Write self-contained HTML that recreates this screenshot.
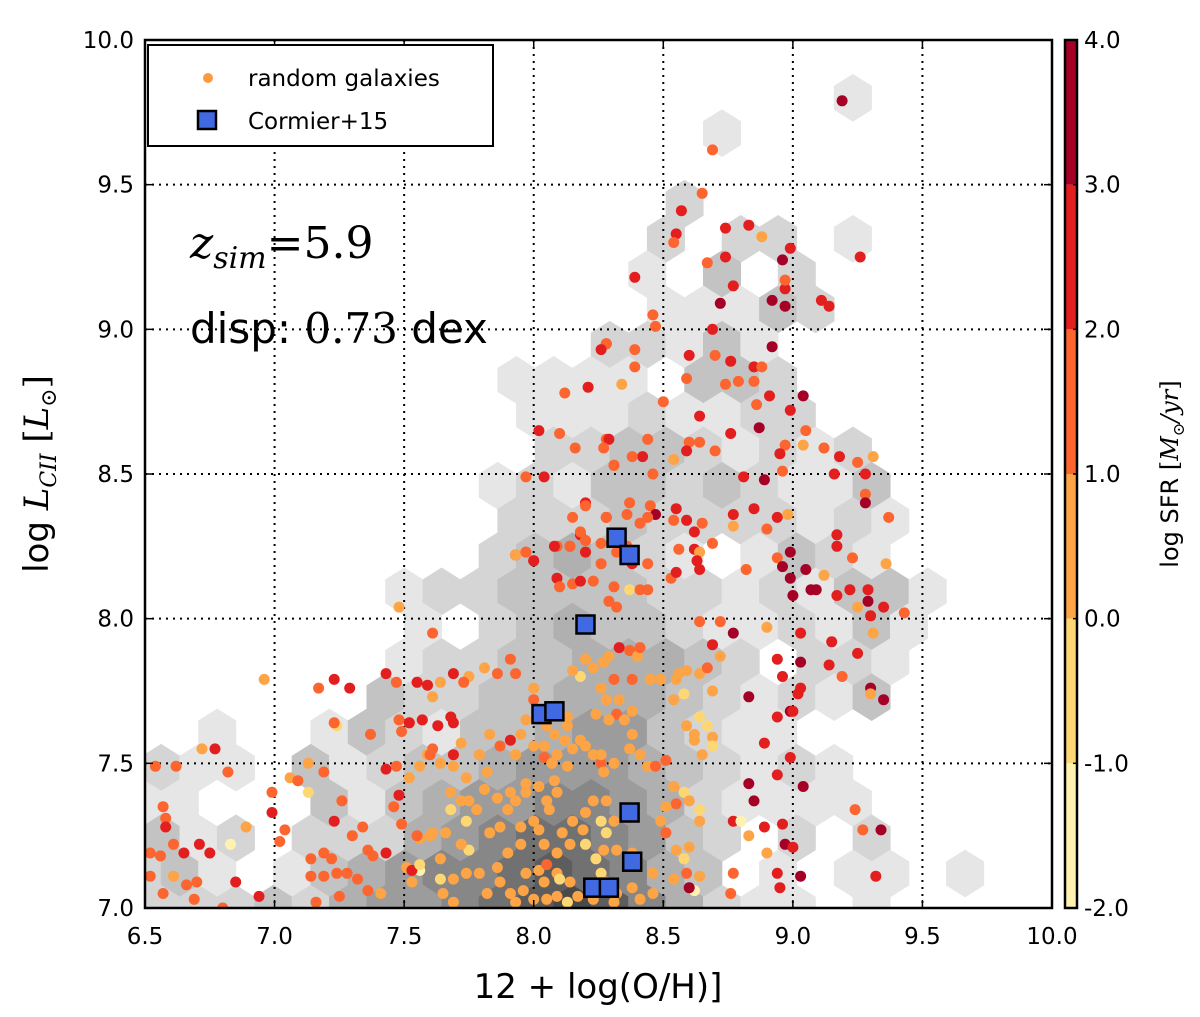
<!DOCTYPE html>
<html><head><meta charset="utf-8"><style>
html,body{margin:0;padding:0;background:#fff;}
svg{display:block;}
.sans{font-family:"DejaVu Sans","Liberation Sans",sans-serif;}
.serif{font-family:"DejaVu Serif","Liberation Serif",serif;}
</style></head><body>
<svg id="chart" class="sans" width="1200" height="1017" viewBox="0 0 1200 1017" xmlns="http://www.w3.org/2000/svg">
<defs><clipPath id="plotclip"><rect x="145" y="40" width="907" height="868"/></clipPath></defs>
<rect width="1200" height="1017" fill="#fff"/>
<g id="hexes" clip-path="url(#plotclip)"></g>
<g id="grid"></g>
<g id="points" clip-path="url(#plotclip)"></g>
<g id="squares" clip-path="url(#plotclip)"></g>
<rect x="145" y="40" width="907" height="868" fill="none" stroke="#000" stroke-width="2.5"/>
<g id="ticks"></g>
<g>
<rect x="148" y="45" width="345" height="101" fill="#fff" stroke="#000" stroke-width="2"/>
<circle cx="208" cy="78" r="5" fill="#fd9a40"/>
<text x="248" y="86" font-size="23">random galaxies</text>
<rect x="198" y="111" width="18" height="18" fill="#4169e1" stroke="#000" stroke-width="2.5"/>
<text x="248" y="129" font-size="23">Cormier+15</text>
</g>
<text class="serif" x="190" y="258" font-size="44" font-style="italic">z<tspan font-size="30" dy="10">sim</tspan><tspan dy="-10" font-style="normal">=5.9</tspan></text>
<text x="190" y="343" font-size="42">disp: <tspan class="serif">0.73</tspan> dex</text>
<g id="xlabels"></g>
<g id="ylabels"></g>
<text x="598" y="998" font-size="34" text-anchor="middle">12 + log(O/H)]</text>
<text transform="translate(48,474) rotate(-90)" font-size="34" text-anchor="middle">log <tspan class="serif" font-style="italic">L<tspan font-size="22" dy="8">CII</tspan></tspan><tspan dy="-8"> </tspan><tspan class="serif">[<tspan font-style="italic">L</tspan><tspan font-size="22" dy="8">⊙</tspan><tspan dy="-8">]</tspan></tspan></text>
<g id="cbar"></g>
<text transform="translate(1178,474) rotate(-90)" font-size="24" text-anchor="middle">log SFR <tspan class="serif">[<tspan font-style="italic">M</tspan><tspan font-size="16" dy="6">⊙</tspan><tspan dy="-6" font-style="italic">/yr</tspan>]</tspan></text>
</svg>
<script>
// ---- axes ----
const xMin=6.5,xMax=10,yMin=7,yMax=10;
const PX0=145,PX1=1052,PY0=908,PY1=40;
function sx(v){return PX0+(v-xMin)/(xMax-xMin)*(PX1-PX0);}
function sy(v){return PY0-(v-yMin)/(yMax-yMin)*(PY0-PY1);}
const xTicks=[6.5,7.0,7.5,8.0,8.5,9.0,9.5,10.0];
const xTickLabels=["6.5","7.0","7.5","8.0","8.5","9.0","9.5","10.0"];
const yTicks=[7.0,7.5,8.0,8.5,9.0,9.5,10.0];
const yTickLabels=["7.0","7.5","8.0","8.5","9.0","9.5","10.0"];
const cbTicks=[-2,-1,0,1,2,3,4];
const cbTickLabels=["-2.0","-1.0","0.0","1.0","2.0","3.0","4.0"];
const cbColors=["#fff2b0","#fed775","#fda446","#fc652f","#e31e1e","#a50026"];
// hexbin: grey level per cell, row m center y = hexY0 - m*hexDY; even rows start at hexX0, odd rows at hexX0+hexDX/2
const hexX0=6.49, hexDX=0.1443, hexY0=9.80, hexDY=0.12185, hexHalfH=0.0812;
const hexRows=[
"0000000000000000000100000",
"000000000000000100000000",
"0000000000000000000000000",
"000000000000002000000000",
"0000000000000020220100000",
"000000000000010302000000",
"0000000000000011132000000",
"000000000000221310000000",
"0000000000111103320000000",
"000000000011121122000000",
"0000000000022332121200000",
"000000000121332321130000",
"0000000000222322221210000",
"000000000234321013210000",
"0000000122333322121331000",
"000000010234332112131000",
"0000000122334443202210000",
"000000322334443212130000",
"0010013213345532110000000",
"211031233455543212100000",
"1100031345566542111100000",
"312022245677653202020000",
"2310134566787643010110100",
"222324556789864211010000"];
const hexGreys=["none","#e6e6e6","#d5d5d5","#c3c3c3","#b0b0b0","#9c9c9c","#878787","#717171","#5d5d5d","#4a4a4a"];
// scatter: random galaxies
const ptX=[8.08,8.12,8.15,8.09,8.04,8.07,8.13,8.18,8.20,8.23,8.26,8.27,8.31,8.26,8.37,8.41,8.38,8.32,8.38,8.33,8.28,8.24,8.29,8.35,8.26,8.31,8.38,8.18,8.15,8.20,8.23,8.27,8.29,8.33,8.37,8.40,8.41,8.45,8.49,8.54,8.56,8.59,8.64,8.67,8.69,8.64,8.59,8.62,8.67,8.69,8.69,8.65,8.62,8.58,8.55,8.51,8.44,8.47,8.54,8.55,8.58,8.60,8.64,8.64,8.51,8.49,8.51,8.55,8.58,8.59,8.64,8.62,8.54,8.46,8.46,8.41,8.38,8.38,8.32,8.27,8.28,8.26,8.31,8.28,8.23,8.20,8.19,8.15,8.11,8.14,8.20,8.24,8.26,8.28,8.32,8.31,8.23,8.17,8.13,8.09,8.05,8.04,8.02,7.97,7.96,7.91,7.87,7.86,7.90,7.95,8.04,8.09,8.05,8.09,8.14,8.10,8.00,7.93,7.82,7.79,7.74,7.69,7.64,7.65,7.69,7.75,7.72,7.66,7.61,7.56,7.56,7.51,7.53,7.64,7.83,7.87,7.90,7.86,7.91,7.93,7.97,7.97,8.02,8.08,8.09,8.05,8.06,8.00,7.95,8.02,7.78,7.75,7.72,7.68,7.68,7.74,7.81,7.82,7.74,7.69,7.64,7.56,7.52,7.61,7.59,7.69,7.72,7.79,7.83,7.87,7.93,7.91,7.95,8.00,8.04,7.97,8.02,8.05,8.13,8.13,8.00,8.00,7.93,7.91,7.86,7.81,7.75,7.73,7.69,7.64,7.61,7.55,7.68,7.69,7.63,7.57,7.52,
8.20,8.37,8.45,8.47,8.28,8.36,8.41,8.44,8.55,8.59,8.54,8.77,8.85,8.94,8.98,8.65,8.77,8.90,8.62,8.18,8.26,8.32,8.36,8.38,8.44,8.09,8.14,8.20,8.20,8.26,8.31,8.37,8.41,8.44,8.53,8.55,8.56,8.62,8.69,8.64,8.63,8.64,8.82,8.94,8.96,8.99,8.99,9.00,7.93,7.97,8.00,8.09,8.10,8.15,8.18,8.23,8.29,8.32,8.64,8.72,8.77,8.90,8.69,8.72,8.94,8.96,8.83,8.94,8.99,8.89,8.99,8.94,8.83,8.85,8.77,8.80,8.83,8.96,8.97,8.89,8.90,8.94,8.95,8.76,8.77,8.60,8.60,
9.28,9.28,9.37,9.17,9.17,9.23,9.36,9.05,9.12,9.07,9.09,9.17,9.22,9.29,9.29,9.25,9.30,9.35,9.43,9.31,9.03,9.15,9.25,9.03,9.14,9.19,9.03,9.02,9.30,9.30,9.35,9.00,9.04,9.24,9.27,9.34,9.00,9.03,9.32,
9.19,8.69,8.65,8.57,8.55,8.54,8.74,8.83,8.88,8.99,8.96,9.26,8.67,8.74,8.39,8.77,8.92,8.97,8.97,8.97,9.11,9.14,8.72,8.46,8.47,8.69,8.28,8.39,8.39,8.60,8.70,8.76,8.85,8.92,8.88,8.34,8.50,8.64,8.59,8.74,8.79,8.85,8.86,8.91,8.99,8.87,8.76,9.05,9.04,8.97,8.95,9.04,9.12,9.18,9.25,9.31,9.28,9.16,8.96,8.89,8.81,8.70,8.64,8.60,8.59,8.54,8.44,8.42,8.38,8.28,8.31,8.46,
8.28,8.26,8.12,8.21,8.02,8.10,8.16,8.29,8.27,7.97,8.04,8.31,8.20,8.15,8.18,8.08,8.14,8.20,7.93,7.97,8.00,8.20,8.28,
6.57,6.58,6.58,6.61,6.65,6.71,6.75,6.52,6.56,6.52,6.61,6.66,6.70,6.85,6.83,6.89,6.99,6.99,7.04,7.02,7.06,7.09,7.13,7.13,7.19,7.24,7.26,7.23,7.30,7.34,7.14,7.19,7.22,7.14,7.19,7.24,7.28,7.32,7.36,7.38,7.43,7.36,7.41,7.25,7.16,6.57,6.69,6.80,6.94,6.54,6.62,6.82,6.72,6.77,7.43,7.47,7.55,7.59,7.48,7.52,7.57,7.49,7.60,7.43,7.47,7.48,7.46,7.49,7.55,7.60,7.53,7.56,7.48,7.61,6.96,7.17,7.23,7.29,7.37,7.23];
const ptY=[7.60,7.58,7.55,7.53,7.52,7.50,7.49,7.58,7.56,7.53,7.50,7.47,7.50,7.53,7.55,7.53,7.60,7.67,7.68,7.72,7.72,7.67,7.65,7.65,7.76,7.79,7.79,7.80,7.82,7.86,7.83,7.85,7.87,7.90,7.89,7.87,7.90,7.79,7.79,7.72,7.81,7.82,7.81,7.83,7.75,7.66,7.63,7.60,7.63,7.59,7.56,7.53,7.58,7.74,7.79,7.51,7.49,7.49,7.42,7.36,7.40,7.37,7.34,7.30,7.35,7.30,7.26,7.20,7.17,7.12,7.11,7.06,7.10,7.12,7.05,7.03,7.07,7.19,7.20,7.20,7.26,7.30,7.30,7.37,7.37,7.33,7.27,7.30,7.26,7.22,7.22,7.17,7.12,7.09,7.05,7.02,7.03,7.04,7.02,7.04,7.03,7.09,7.13,7.12,7.06,7.05,7.09,7.14,7.19,7.22,7.22,7.19,7.15,7.12,7.09,7.10,7.03,7.02,7.05,7.12,7.12,7.10,7.10,7.05,7.02,7.20,7.22,7.26,7.26,7.24,7.13,7.14,7.09,7.17,7.26,7.28,7.34,7.38,7.40,7.37,7.40,7.43,7.42,7.44,7.40,7.37,7.34,7.30,7.28,7.27,7.34,7.37,7.37,7.40,7.34,7.30,7.41,7.47,7.45,7.49,7.50,7.49,7.45,7.55,7.53,7.53,7.57,7.53,7.60,7.56,7.53,7.58,7.60,7.56,7.56,7.65,7.67,7.63,7.63,7.66,7.72,7.76,7.81,7.86,7.81,7.83,7.80,7.78,7.81,7.78,7.73,7.78,7.66,7.64,7.63,7.65,7.64,
8.40,8.40,8.39,8.36,8.35,8.36,8.33,8.35,8.38,8.34,8.34,8.36,8.38,8.35,8.36,8.33,8.32,8.31,8.30,8.29,8.26,8.23,8.25,8.19,8.19,8.25,8.25,8.27,8.23,8.19,8.11,8.10,8.10,8.10,8.14,8.16,8.24,8.24,8.26,8.23,8.20,8.17,8.17,8.21,8.18,8.14,8.23,8.08,8.22,8.23,8.20,8.14,8.11,8.12,8.13,8.13,8.06,8.04,7.99,7.99,7.95,7.97,7.91,7.87,7.86,7.80,7.73,7.66,7.68,7.57,7.52,7.46,7.43,7.37,7.30,7.30,7.25,7.29,7.22,7.28,7.19,7.12,7.07,7.05,7.12,7.21,7.07,
8.43,8.40,8.35,8.29,8.25,8.21,8.19,8.17,8.15,8.10,8.10,8.08,8.10,8.10,8.06,8.04,8.01,8.04,8.02,7.95,7.95,7.92,7.88,7.85,7.84,7.80,7.76,7.74,7.76,7.74,7.72,7.68,7.42,7.34,7.27,7.27,7.21,7.11,7.11,
9.79,9.62,9.47,9.41,9.33,9.30,9.35,9.36,9.32,9.28,9.24,9.25,9.23,9.25,9.18,9.15,9.10,9.08,9.14,9.17,9.10,9.08,9.09,9.05,9.01,9.00,8.95,8.93,8.87,8.91,8.91,8.89,8.87,8.94,8.87,8.81,8.75,8.70,8.83,8.81,8.82,8.82,8.74,8.77,8.72,8.66,8.64,8.65,8.77,8.60,8.57,8.60,8.59,8.56,8.54,8.56,8.50,8.50,8.51,8.48,8.49,8.58,8.61,8.61,8.58,8.55,8.62,8.56,8.56,8.62,8.53,8.50,
8.95,8.93,8.78,8.80,8.65,8.64,8.59,8.62,8.59,8.49,8.49,8.53,8.39,8.35,8.30,8.25,8.25,8.27,8.22,8.23,8.20,8.23,8.35,
7.35,7.31,7.28,7.22,7.19,7.22,7.19,7.19,7.18,7.11,7.11,7.08,7.09,7.09,7.22,7.28,7.40,7.33,7.27,7.23,7.45,7.44,7.40,7.50,7.47,7.63,7.37,7.30,7.25,7.28,7.17,7.19,7.17,7.11,7.11,7.12,7.12,7.10,7.20,7.18,7.19,7.06,7.05,7.04,7.02,7.05,7.03,7.00,7.04,7.49,7.49,7.47,7.55,7.55,7.81,7.78,7.78,7.77,7.65,7.64,7.65,7.61,7.53,7.48,7.49,7.39,7.35,7.29,7.25,7.25,7.13,7.15,8.04,7.95,7.79,7.76,7.79,7.76,7.60,7.64];
const ptSFR=[0.5,0.5,0.5,0.5,1.5,0.5,0.5,0.5,0.5,0.5,1.5,0.5,0.5,0.5,0.5,0.5,0.5,1.5,0.5,0.5,0.5,0.5,0.5,0.5,0.5,1.5,1.5,-0.5,0.5,0.5,0.5,0.5,0.5,2.5,1.5,0.5,1.5,0.5,0.5,0.5,0.5,0.5,0.5,1.5,0.5,-0.5,0.5,0.5,-0.5,0.5,-0.5,0.5,0.5,-0.5,0.5,1.5,0.5,1.5,0.5,1.5,-0.5,0.5,-0.5,0.5,0.5,0.5,1.5,0.5,-0.5,1.5,0.5,-1.5,0.5,0.5,0.5,0.5,0.5,0.5,0.5,0.5,-0.5,-0.5,0.5,0.5,0.5,0.5,0.5,0.5,0.5,0.5,-0.5,-0.5,-0.5,0.5,0.5,0.5,0.5,0.5,-0.5,0.5,0.5,0.5,0.5,0.5,0.5,0.5,0.5,0.5,0.5,0.5,0.5,0.5,1.5,0.5,0.5,-0.5,0.5,0.5,0.5,0.5,0.5,0.5,-0.5,0.5,0.5,-0.5,0.5,0.5,0.5,0.5,-1.5,0.5,0.5,0.5,0.5,0.5,0.5,0.5,0.5,0.5,0.5,0.5,0.5,0.5,0.5,0.5,0.5,0.5,0.5,0.5,0.5,0.5,0.5,0.5,-0.5,-0.5,0.5,0.5,0.5,0.5,0.5,0.5,0.5,1.5,0.5,2.5,0.5,0.5,0.5,1.5,0.5,2.5,0.5,0.5,0.5,0.5,0.5,0.5,0.5,0.5,1.5,0.5,1.5,1.5,1.5,0.5,0.5,1.5,2.5,0.5,0.5,0.5,2.5,2.5,2.5,0.5,0.5,2.5,
1.5,1.5,3.5,2.5,1.5,1.5,1.5,2.5,2.5,1.5,2.5,2.5,2.5,0.5,1.5,0.5,1.5,2.5,2.5,1.5,1.5,1.5,2.5,1.5,1.5,1.5,1.5,0.5,1.5,1.5,-0.5,1.5,1.5,1.5,2.5,1.5,2.5,1.5,0.5,2.5,2.5,1.5,1.5,3.5,3.5,3.5,3.5,2.5,1.5,2.5,2.5,1.5,1.5,2.5,1.5,1.5,1.5,1.5,1.5,3.5,0.5,2.5,0.5,2.5,2.5,3.5,2.5,3.5,2.5,2.5,2.5,3.5,3.5,2.5,-1.5,0.5,2.5,3.5,2.5,0.5,2.5,2.5,1.5,1.5,0.5,3.5,1.5,
3.5,1.5,2.5,2.5,1.5,0.5,3.0,0.5,3.0,3.5,2.0,2.5,2.5,3.5,0.5,2.5,2.5,1.5,0.5,2.5,2.5,2.5,3.5,2.5,1.5,2.5,2.5,3.0,0.5,3.0,2.5,3.0,1.5,1.0,3.0,2.5,3.0,2.5,3.0,
1.5,1.5,2.5,2.5,1.5,2.5,2.5,0.5,2.5,3.5,2.5,1.5,2.5,2.5,2.5,3.0,3.5,2.0,1.5,2.0,2.5,3.5,1.5,1.5,2.5,2.0,1.5,1.5,2.0,1.5,2.5,2.5,3.0,1.5,0.5,1.5,2.5,1.5,1.5,1.5,1.5,1.5,2.5,2.5,3.5,2.5,1.5,3.5,1.5,2.0,0.5,1.5,2.0,1.5,0.5,2.5,2.5,1.5,3.5,2.5,1.5,1.5,1.5,2.5,0.5,1.5,2.0,1.5,1.5,1.5,1.5,1.5,
2.0,1.5,2.0,2.0,1.5,1.5,2.0,1.5,1.5,2.0,1.5,1.5,1.5,1.5,2.0,1.5,1.5,0.5,1.5,2.5,2.0,1.5,1.5,
1.5,2.5,1.5,2.5,2.5,2.5,1.5,1.5,1.5,0.5,1.5,1.5,2.5,-1.5,0.5,1.5,2.5,1.5,1.5,0.5,1.5,-0.5,0.5,1.5,-1.0,1.0,2.5,1.5,1.5,1.5,1.5,1.5,1.5,1.5,1.5,1.5,1.0,1.5,1.5,2.5,1.0,0.5,1.5,1.0,1.0,1.5,1.5,2.5,1.0,1.5,1.0,0.0,2.5,2.5,1.0,2.5,2.0,1.5,2.5,2.0,1.5,1.0,2.5,1.5,2.5,1.0,1.0,1.0,0.0,2.0,-1.0,0.5,1.0,0.5,1.5,2.0,2.0,1.5,1.5,1.5];
// Cormier+15
const cmX=[8.32,8.37,8.20,8.03,8.08,8.37,8.38,8.23,8.29];
const cmY=[8.28,8.22,7.98,7.67,7.68,7.33,7.16,7.07,7.07];

const NS="http://www.w3.org/2000/svg";
function mk(tag,attrs,parent){const e=document.createElementNS(NS,tag);for(const k in attrs)e.setAttribute(k,attrs[k]);parent.appendChild(e);return e;}
function sfrColor(v){let i=Math.floor(v-cbTicks[0]);if(i<0)i=0;if(i>5)i=5;return cbColors[i];}

// hexes
const gh=document.getElementById('hexes');
hexRows.forEach((row,m)=>{
  const cy=hexY0-m*hexDY;
  for(let j=0;j<row.length;j++){
    const lv=parseInt(row[j],10); if(!lv) continue;
    const cx=hexX0+j*hexDX+(m%2?hexDX/2:0);
    const X=sx(cx),Y=sy(cy),hw=sx(cx+hexDX/2)-X,hh=sy(cy-hexHalfH)-Y;
    const p=[[X,Y-hh],[X+hw,Y-hh/2],[X+hw,Y+hh/2],[X,Y+hh],[X-hw,Y+hh/2],[X-hw,Y-hh/2]].map(q=>q[0].toFixed(1)+','+q[1].toFixed(1)).join(' ');
    const el=mk('polygon',{points:p,fill:hexGreys[lv],stroke:hexGreys[lv],'stroke-width':0.6},gh);
    
    
  }
});
// grid
const gg=document.getElementById('grid');
xTicks.slice(1,-1).forEach(v=>{const el=mk('line',{x1:sx(v),x2:sx(v),y1:PY1,y2:PY0,stroke:'#000','stroke-width':2,'stroke-dasharray':'2,5'},gg);

});
yTicks.slice(1,-1).forEach(v=>{const el=mk('line',{x1:PX0,x2:PX1,y1:sy(v),y2:sy(v),stroke:'#000','stroke-width':2,'stroke-dasharray':'2,5'},gg);

});
// points
const gp=document.getElementById('points');
for(let i=0;i<ptX.length;i++){
  const el=mk('circle',{cx:sx(ptX[i]).toFixed(1),cy:sy(ptY[i]).toFixed(1),r:5.5,fill:sfrColor(ptSFR[i])},gp);
  
  
}
// squares
const gs=document.getElementById('squares');
for(let i=0;i<cmX.length;i++){
  const el=mk('rect',{x:(sx(cmX[i])-9).toFixed(1),y:(sy(cmY[i])-9).toFixed(1),width:18,height:18,fill:'#4169e1',stroke:'#000','stroke-width':2.5},gs);
  
  
}
// ticks & labels
const gt=document.getElementById('ticks'),gx=document.getElementById('xlabels'),gy=document.getElementById('ylabels');
xTicks.forEach((v,i)=>{
  mk('line',{x1:sx(v),x2:sx(v),y1:PY0,y2:PY0-8,stroke:'#000','stroke-width':1.5},gt);
  mk('line',{x1:sx(v),x2:sx(v),y1:PY1,y2:PY1+8,stroke:'#000','stroke-width':1.5},gt);
  const t=mk('text',{x:sx(v),y:944,'font-size':23,'text-anchor':'middle'},gx);t.textContent=xTickLabels[i];
  
  
});
yTicks.forEach((v,i)=>{
  mk('line',{x1:PX0,x2:PX0+8,y1:sy(v),y2:sy(v),stroke:'#000','stroke-width':1.5},gt);
  mk('line',{x1:PX1,x2:PX1-8,y1:sy(v),y2:sy(v),stroke:'#000','stroke-width':1.5},gt);
  const t=mk('text',{x:134,y:sy(v)+8,'font-size':23,'text-anchor':'end'},gy);t.textContent=yTickLabels[i];
  
  
});
// colorbar
const gc=document.getElementById('cbar');
const CB0=1065,CBW=12;
function cy2(v){return PY0-(v-cbTicks[0])/(cbTicks[cbTicks.length-1]-cbTicks[0])*(PY0-PY1);}
for(let i=0;i<cbColors.length;i++){
  const el=mk('rect',{x:CB0,y:cy2(cbTicks[i+1]),width:CBW,height:cy2(cbTicks[i])-cy2(cbTicks[i+1]),fill:cbColors[i]},gc);
  
  
}
mk('rect',{x:CB0,y:PY1,width:CBW,height:PY0-PY1,fill:'none',stroke:'#000','stroke-width':2.5},gc);
cbTicks.forEach((v,i)=>{
  mk('line',{x1:CB0+CBW,x2:CB0+CBW-4,y1:cy2(v),y2:cy2(v),stroke:'#000','stroke-width':1.5},gc);
  const t=mk('text',{x:1084,y:cy2(v)+8,'font-size':23},gc);t.textContent=cbTickLabels[i];
  
  
});
</script>
</body></html>
